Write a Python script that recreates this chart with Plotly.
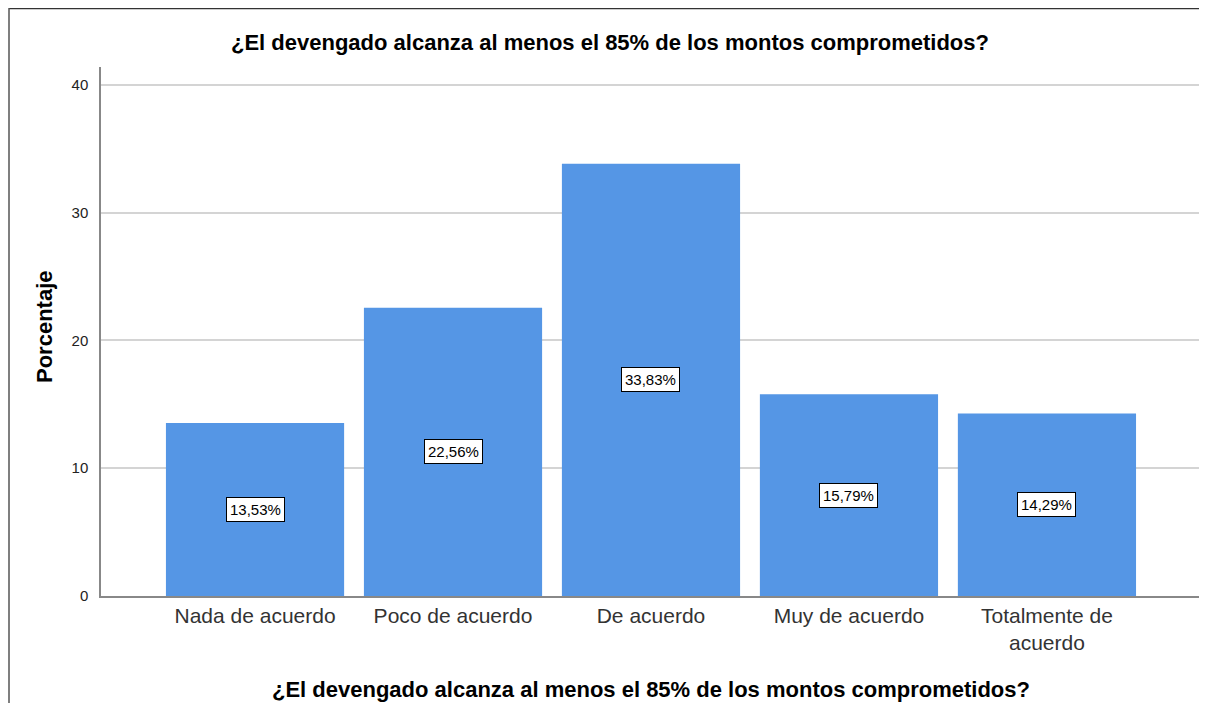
import plotly.graph_objects as go

categories = ["Nada de acuerdo", "Poco de acuerdo", "De acuerdo", "Muy de acuerdo", "Totalmente de<br>acuerdo"]
values = [13.53, 22.56, 33.83, 15.79, 14.29]
labels = ["13,53%", "22,56%", "33,83%", "15,79%", "14,29%"]
y_ticks = [0, 10, 20, 30, 40]

title_text = "¿El devengado alcanza al menos el 85% de los montos comprometidos?"

# page offset (browser body margin); figure sized to fit the window without scrolling
OFF = 8
W, H = 1191, 695
# target plot area in screen pixels
SL, SR, ST, SB = 101, 1199, 67, 596
L = SL - OFF
T = ST - OFF
R = W - (SR - OFF)
B = H - (SB - OFF)
pw, ph = W - L - R, H - T - B

def px(x):
    return (x - OFF - L) / pw

def py(y):
    return (H - B - (y - OFF)) / ph

FONT = "Arial, Liberation Sans"

fig = go.Figure()
fig.add_trace(go.Bar(
    x=list(range(len(categories))), y=values,
    marker=dict(color="#5596E5", line=dict(width=0)),
    width=0.9, hoverinfo="skip",
))

annotations = []
for i, (v, lab) in enumerate(zip(values, labels)):
    annotations.append(dict(
        x=i, y=v / 2, xref="x", yref="y", text=lab, showarrow=False,
        font=dict(family=FONT, size=15, color="black"),
        bgcolor="white", bordercolor="black", borderwidth=1, borderpad=3,
    ))

annotations.append(dict(
    x=px(610), y=py(42), xref="paper", yref="paper", text="<b>" + title_text + "</b>",
    showarrow=False, font=dict(family=FONT, size=22, color="black"),
    xanchor="center", yanchor="middle",
))
annotations.append(dict(
    x=px(651), y=py(689), xref="paper", yref="paper", text="<b>" + title_text + "</b>",
    showarrow=False, font=dict(family=FONT, size=22, color="black"),
    xanchor="center", yanchor="middle",
))
annotations.append(dict(
    x=px(44), y=py(327), xref="paper", yref="paper", text="<b>Porcentaje</b>",
    showarrow=False, textangle=-90, font=dict(family=FONT, size=22, color="black"),
    xanchor="center", yanchor="middle",
))

shapes = [
    dict(type="line", xref="paper", yref="paper", x0=px(9), x1=px(1215), y0=py(8.5), y1=py(8.5),
         line=dict(color="#333333", width=1.5)),
    dict(type="line", xref="paper", yref="paper", x0=px(9), x1=px(9), y0=py(8), y1=py(720),
         line=dict(color="#555555", width=1.5)),
]

fig.update_layout(
    width=W, height=H,
    margin=dict(l=L, r=R, t=T, b=B),
    paper_bgcolor="white", plot_bgcolor="white",
    showlegend=False, bargap=0.1,
    annotations=annotations, shapes=shapes,
    font=dict(family=FONT, color="#222222"),
)
fig.update_xaxes(
    tickmode="array", tickvals=list(range(len(categories))), ticktext=categories,
    range=[-0.778, 4.768], showgrid=False, zeroline=False,
    showline=True, linecolor="#888888", linewidth=1.5,
    ticks="", tickfont=dict(size=21, color="#333333"),
)
fig.update_yaxes(
    range=[0, 41.4], tickmode="array", tickvals=y_ticks,
    showgrid=True, gridcolor="#D4D4D4", gridwidth=2,
    zeroline=False, showline=True, linecolor="#888888", linewidth=1.5,
    ticks="", ticklabelstandoff=8, tickfont=dict(size=15, color="#222222"),
)

fig.write_html("out.html", config={"displayModeBar": False})
